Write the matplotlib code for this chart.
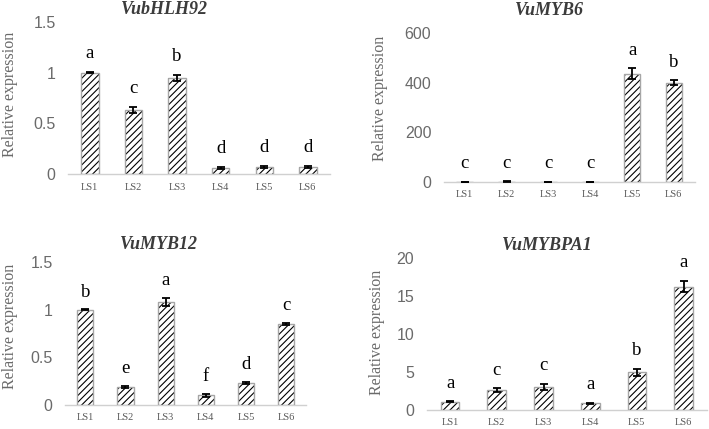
import numpy as np
import matplotlib.pyplot as plt
from matplotlib.ticker import FuncFormatter

samples = ["LS1", "LS2", "LS3", "LS4", "LS5", "LS6"]

# VubHLH92
bhlh92_vals = [1.0, 0.63, 0.95, 0.06, 0.07, 0.07]
bhlh92_err = [0.005, 0.03, 0.03, 0.01, 0.01, 0.01]
bhlh92_sig = ["a", "c", "b", "d", "d", "d"]

# VuMYB6
myb6_vals = [1.0, 1.3, 0.9, 1.2, 436, 399]
myb6_err = [0.2, 0.3, 0.2, 0.3, 23, 10]
myb6_sig = ["c", "c", "c", "c", "a", "b"]

# VuMYB12
myb12_vals = [1.0, 0.19, 1.08, 0.10, 0.23, 0.85]
myb12_err = [0.005, 0.01, 0.045, 0.015, 0.01, 0.01]
myb12_sig = ["b", "e", "a", "f", "d", "c"]

# VuMYBPA1
mybpa1_vals = [1.1, 2.64, 3.08, 0.88, 4.97, 16.26]
mybpa1_err = [0.05, 0.22, 0.42, 0.05, 0.43, 0.75]
mybpa1_sig = ["a", "c", "c", "a", "b", "a"]

panels = [
    # title, values, errors, letters, ticks, axes rect, title pos, ylabel pos
    ("VubHLH92", bhlh92_vals, bhlh92_err, bhlh92_sig, [0, 0.5, 1, 1.5],
     [0.096, 0.594, 0.369, 0.355], (0.37, 1.08), (0.014, 0.78)),
    ("VuMYB6", myb6_vals, myb6_err, myb6_sig, [0, 200, 400, 600],
     [0.626, 0.576, 0.354, 0.347], (0.42, 1.15), (0.536, 0.77)),
    ("VuMYB12", myb12_vals, myb12_err, myb12_sig, [0, 0.5, 1, 1.5],
     [0.092, 0.056, 0.340, 0.333], (0.39, 1.12), (0.014, 0.24)),
    ("VuMYBPA1", mybpa1_vals, mybpa1_err, mybpa1_sig, [0, 5, 10, 15, 20],
     [0.602, 0.044, 0.395, 0.354], (0.43, 1.085), (0.532, 0.225)),
]

gray = "#595959"
plt.rcParams["hatch.linewidth"] = 0.8

fig = plt.figure(figsize=(7.09, 4.29), dpi=100)

for title, vals, err, sig, ticks, rect, tpos, lpos in panels:
    ax = fig.add_axes(rect)
    x = np.arange(len(samples))
    # hatched fill, then a gray outline on top
    ax.bar(x, vals, width=0.4, color="white", edgecolor="black",
           linewidth=0, hatch="/////", zorder=2)
    ax.bar(x, vals, width=0.4, color="none", edgecolor="#a6a6a6",
           linewidth=1.0, zorder=3)
    ax.errorbar(x, vals, yerr=err, fmt="none", ecolor="black",
                elinewidth=1.3, capsize=3, capthick=1.3, zorder=4)
    ymax = ticks[-1]
    for xi, v, e, s in zip(x, vals, err, sig):
        ax.text(xi, v + e + 0.12 * ymax, s, ha="center", va="center",
                fontsize=13.5, family="Liberation Serif", color="black")

    ax.set_xlim(-0.5, len(samples) - 0.5)
    ax.set_ylim(0, ymax)
    ax.set_yticks(ticks)
    ax.yaxis.set_major_formatter(FuncFormatter(lambda v, p: "%g" % v))
    ax.set_xticks(x)
    ax.set_xticklabels(samples, family="Liberation Serif", fontsize=7.5,
                       color=gray)
    for lab in ax.get_yticklabels():
        lab.set_family("Liberation Sans")
        lab.set_fontsize(11.5)
        lab.set_color("#6a6a6a")
    ax.tick_params(length=0, axis="y", pad=9)
    ax.tick_params(length=0, axis="x", pad=6)
    for side in ["top", "right", "left"]:
        ax.spines[side].set_visible(False)
    ax.spines["bottom"].set_color("#d0d0d0")
    ax.spines["bottom"].set_linewidth(1.0)

    ax.text(tpos[0], tpos[1], title, transform=ax.transAxes, ha="center",
            va="center", fontsize=13, family="Liberation Serif",
            fontweight="bold", style="italic", color="#3c3c3c")
    fig.text(lpos[0], lpos[1], "Relative expression", rotation=90,
             ha="center", va="center", fontsize=11.5,
             fontfamily="Liberation Serif", color="#6a6a6a")

fig.savefig("out.png", dpi=100)
